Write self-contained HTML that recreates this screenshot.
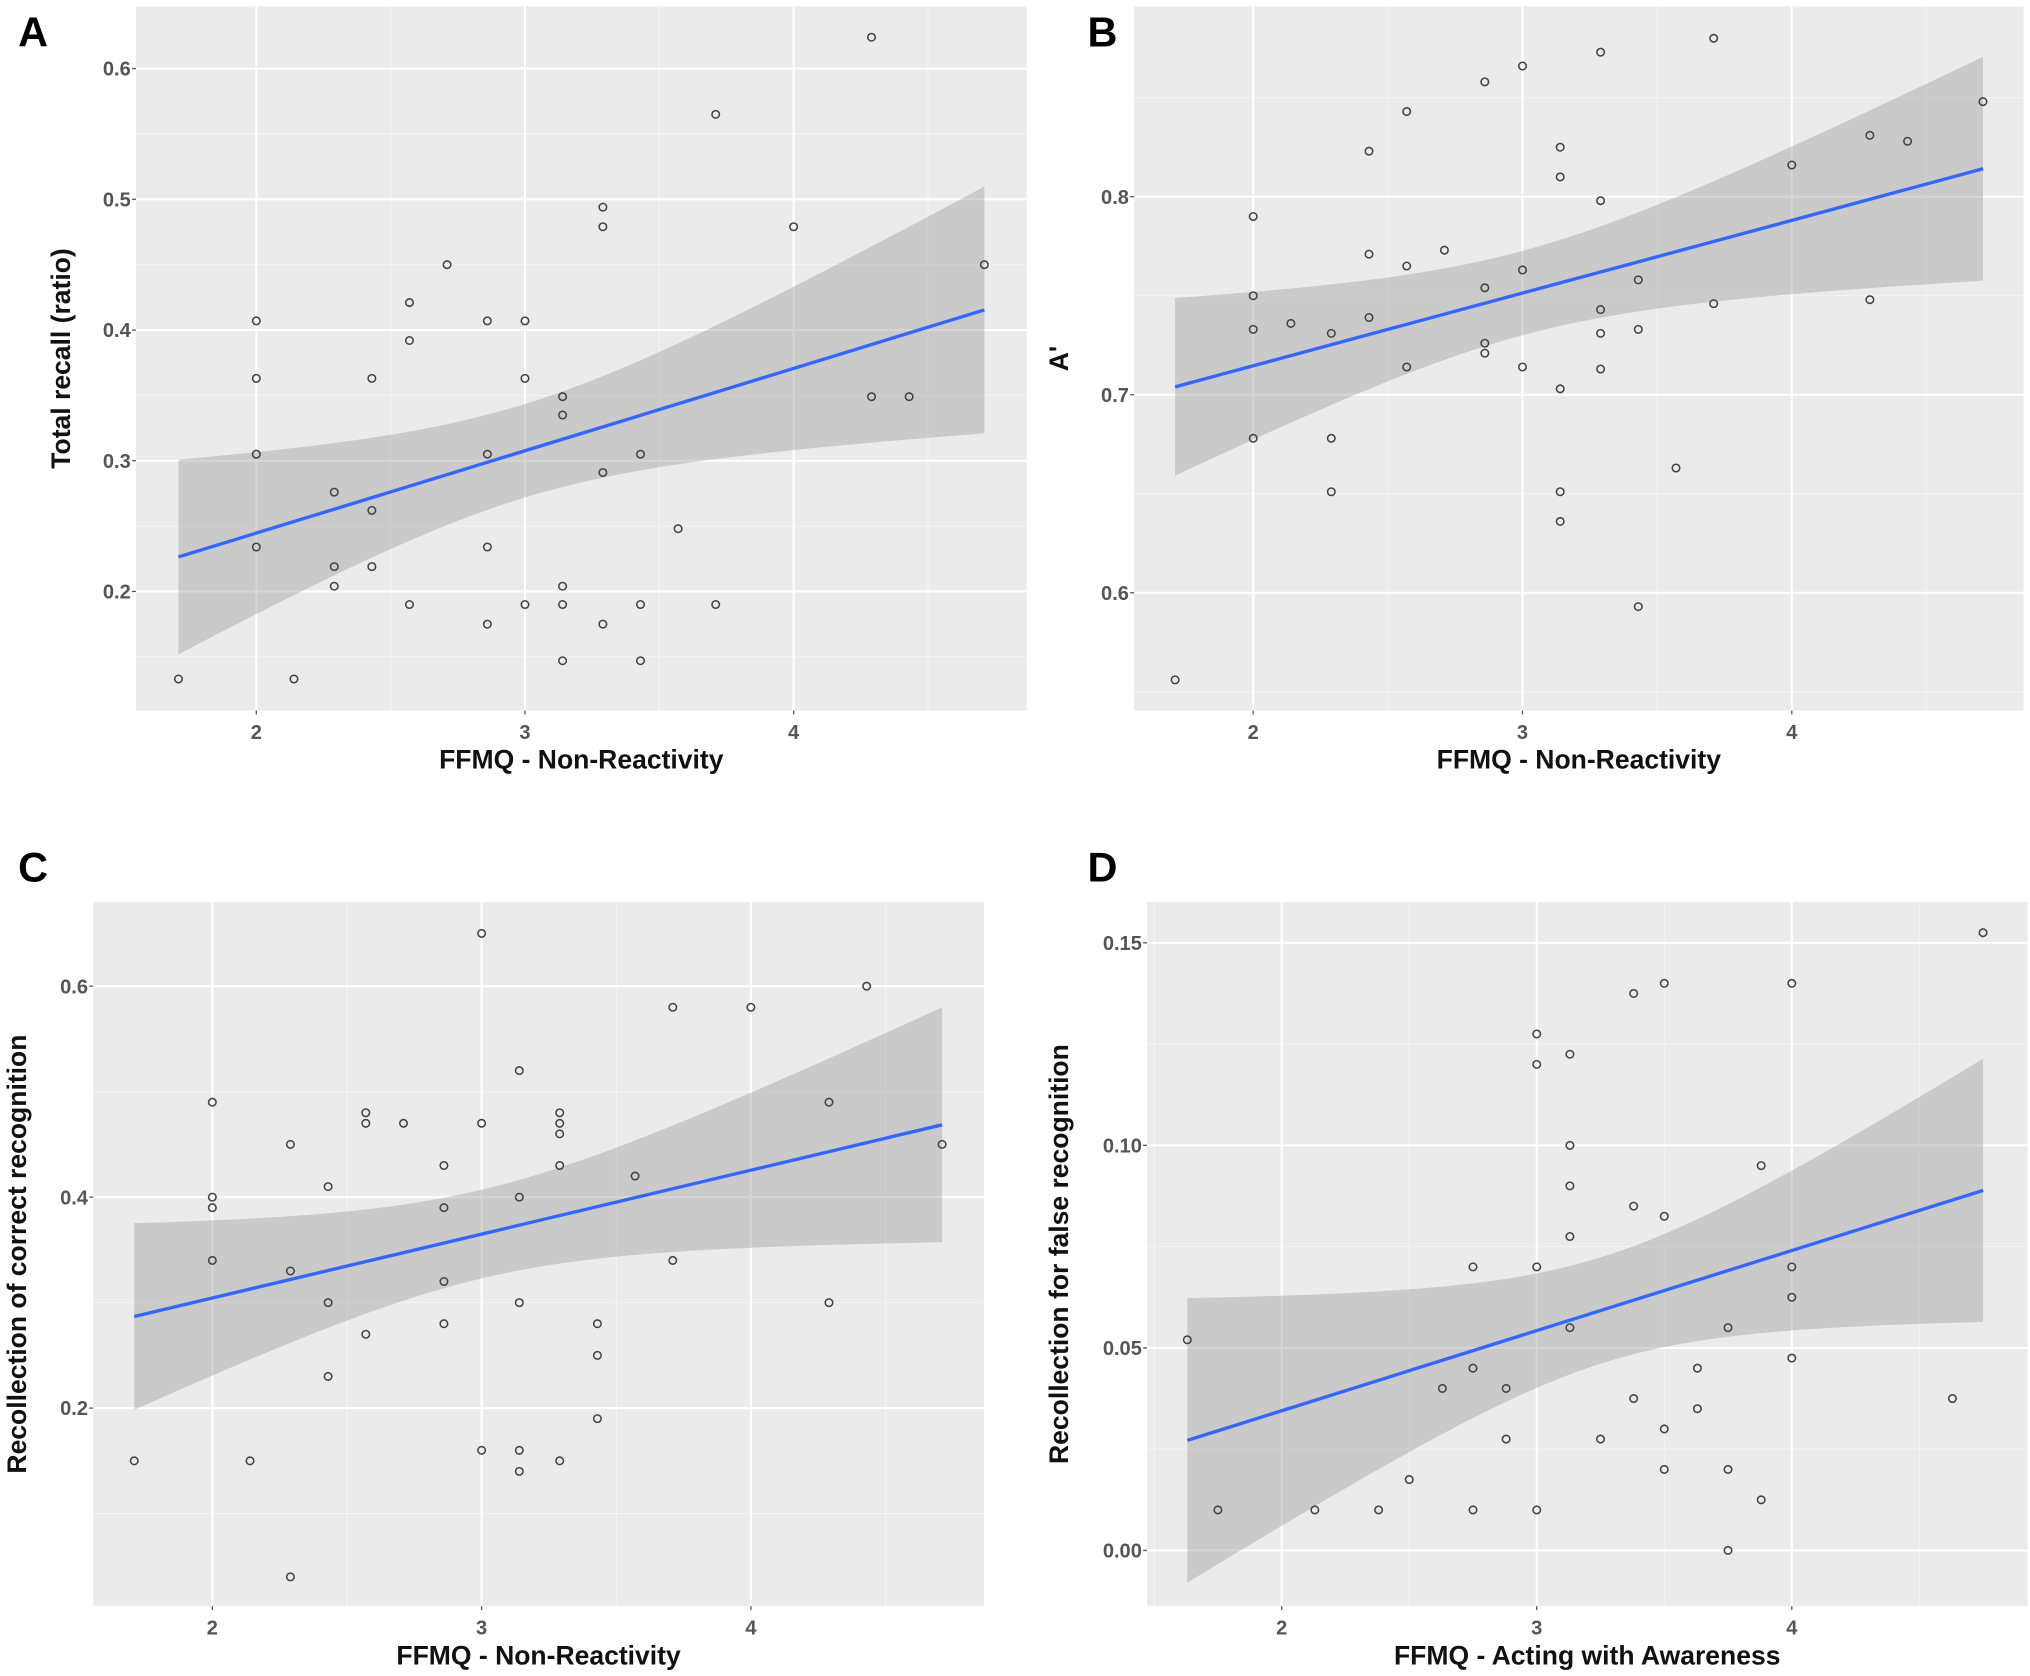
<!DOCTYPE html>
<html><head><meta charset="utf-8"><style>
html,body{margin:0;padding:0;background:#fff}
svg{display:block}
text{font-family:"Liberation Sans",Arial,sans-serif}
.tick{font-size:15.5px;font-weight:bold;fill:#555}
.title{font-size:20.5px;font-weight:bold;fill:#111}
.letter{font-size:32px;font-weight:bold;fill:#000}
</style></head><body>
<svg id="fig" width="2030" height="1676" viewBox="0 0 1568 1295" preserveAspectRatio="none" xmlns="http://www.w3.org/2000/svg"></svg>
<script>
// Panel A data
const aX=[1.71,2,2,2,2,2.14,2.29,2.29,2.29,2.43,2.43,2.43,2.57,2.57,2.57,2.71,2.86,2.86,2.86,2.86,3,3,3,3.14,3.14,3.14,3.14,3.14,3.29,3.29,3.29,3.29,3.43,3.43,3.43,3.57,3.71,3.71,4,4.29,4.29,4.43,4.71];
const aY=[0.133,0.407,0.363,0.305,0.234,0.133,0.276,0.219,0.204,0.363,0.262,0.219,0.421,0.392,0.19,0.45,0.407,0.305,0.234,0.175,0.407,0.363,0.19,0.349,0.335,0.204,0.19,0.147,0.494,0.479,0.291,0.175,0.305,0.19,0.147,0.248,0.565,0.19,0.479,0.624,0.349,0.349,0.45];
const aXTicks=[2,3,4];const aYTicks=[0.2,0.3,0.4,0.5,0.6];
// Panel B data
const bX=[1.71,2,2,2,2,2.14,2.29,2.29,2.29,2.43,2.43,2.43,2.57,2.57,2.57,2.71,2.86,2.86,2.86,2.86,3,3,3,3.14,3.14,3.14,3.14,3.14,3.29,3.29,3.29,3.29,3.29,3.43,3.43,3.43,3.57,3.71,3.71,4,4.29,4.29,4.43,4.71];
const bY=[0.556,0.79,0.75,0.733,0.678,0.736,0.731,0.678,0.651,0.823,0.771,0.739,0.843,0.765,0.714,0.773,0.858,0.754,0.726,0.721,0.866,0.763,0.714,0.825,0.81,0.703,0.651,0.636,0.873,0.798,0.743,0.731,0.713,0.758,0.733,0.593,0.663,0.88,0.746,0.816,0.831,0.748,0.828,0.848];
const bXTicks=[2,3,4];const bYTicks=[0.6,0.7,0.8];
// Panel C data
const cX=[1.71,2,2,2,2,2.14,2.29,2.29,2.29,2.43,2.43,2.43,2.57,2.57,2.57,2.71,2.86,2.86,2.86,2.86,3,3,3,3.14,3.14,3.14,3.14,3.14,3.29,3.29,3.29,3.29,3.29,3.43,3.43,3.43,3.57,3.71,3.71,4,4.29,4.29,4.43,4.71];
const cY=[0.15,0.49,0.40,0.39,0.34,0.15,0.45,0.33,0.04,0.41,0.30,0.23,0.48,0.47,0.27,0.47,0.43,0.39,0.32,0.28,0.65,0.47,0.16,0.52,0.40,0.30,0.16,0.14,0.48,0.47,0.46,0.43,0.15,0.28,0.25,0.19,0.42,0.58,0.34,0.58,0.49,0.30,0.60,0.45];
const cXTicks=[2,3,4];const cYTicks=[0.2,0.4,0.6];
// Panel D data
const dX=[1.63,1.75,2.13,2.38,2.5,2.63,2.75,2.75,2.75,2.88,2.88,3,3,3,3,3.13,3.13,3.13,3.13,3.13,3.25,3.38,3.38,3.38,3.5,3.5,3.5,3.5,3.63,3.63,3.75,3.75,3.75,3.88,3.88,4,4,4,4,4.63,4.75];
const dY=[0.052,0.01,0.01,0.01,0.0175,0.04,0.07,0.045,0.01,0.04,0.0275,0.1275,0.12,0.07,0.01,0.1225,0.10,0.09,0.0775,0.055,0.0275,0.1375,0.085,0.0375,0.14,0.0825,0.03,0.02,0.045,0.035,0.055,0.02,0.0,0.095,0.0125,0.14,0.07,0.0625,0.0475,0.0375,0.1525];
const dXTicks=[2,3,4];const dYTicks=[0,0.05,0.10,0.15];const dYLabels=["0.00","0.05","0.10","0.15"];

const NS="http://www.w3.org/2000/svg";
const svg=document.getElementById('fig');
function mk(tag,attrs,parent){const e=document.createElementNS(NS,tag);for(const k in attrs)e.setAttribute(k,attrs[k]);(parent||svg).appendChild(e);return e;}

function panel(p){
  const g=mk('g',{});
  
  
  const sx=v=>p.px0+(v-p.xv0)*p.kx;
  const sy=v=>p.py0-(v-p.yv0)*p.ky;
  const bg=mk('rect',{x:p.L,y:p.T,width:p.R-p.L,height:p.B-p.T,fill:'#ebebeb'},g);
  
  
  p.xMinor.forEach(v=>{const x=sx(v);if(x>p.L&&x<p.R){const l=mk('line',{x1:x,x2:x,y1:p.T,y2:p.B,stroke:'#f5f5f5','stroke-width':0.8},g);}});
  p.yMinor.forEach(v=>{const y=sy(v);if(y>p.T&&y<p.B){const l=mk('line',{x1:p.L,x2:p.R,y1:y,y2:y,stroke:'#f5f5f5','stroke-width':0.8},g);}});
  p.xTicks.forEach(v=>{const x=sx(v);const l=mk('line',{x1:x,x2:x,y1:p.T,y2:p.B,stroke:'#fff','stroke-width':1.6},g);
    mk('line',{x1:x,x2:x,y1:p.B,y2:p.B+3,stroke:'#555','stroke-width':1},g);
    const t=mk('text',{x:x,y:p.B+22,'text-anchor':'middle',class:'tick'},g);t.textContent=String(v);});
  p.yTicks.forEach((v,i)=>{const y=sy(v);const l=mk('line',{x1:p.L,x2:p.R,y1:y,y2:y,stroke:'#fff','stroke-width':1.6},g);
    mk('line',{x1:p.L-3,x2:p.L,y1:y,y2:y,stroke:'#555','stroke-width':1},g);
    const t=mk('text',{x:p.L-4,y:y+5.5,'text-anchor':'end',class:'tick'},g);t.textContent=p.yLabels?p.yLabels[i]:String(v);});
  const X=p.xs,Y=p.ys,n=X.length;
  const mx=X.reduce((a,b)=>a+b)/n,my=Y.reduce((a,b)=>a+b)/n;
  let sxx=0,sxy=0;for(let i=0;i<n;i++){sxx+=(X[i]-mx)**2;sxy+=(X[i]-mx)*(Y[i]-my);}
  const b=sxy/sxx,a=my-b*mx;let sse=0;for(let i=0;i<n;i++)sse+=(Y[i]-a-b*X[i])**2;
  const s=Math.sqrt(sse/(n-2)),t=2.02;
  const xmin=Math.min(...X),xmax=Math.max(...X);
  const up=[],lo=[];
  for(let k=0;k<=60;k++){const x=xmin+(xmax-xmin)*k/60;const yh=a+b*x;const se=s*Math.sqrt(1/n+(x-mx)**2/sxx);
    up.push(sx(x)+','+sy(yh+t*se));lo.unshift(sx(x)+','+sy(yh-t*se));}
  const band=mk('polygon',{points:up.concat(lo).join(' '),fill:'#999999','fill-opacity':0.4},g);
  
  const ln=mk('line',{x1:sx(xmin),y1:sy(a+b*xmin),x2:sx(xmax),y2:sy(a+b*xmax),stroke:'#3366FF','stroke-width':2.6},g);
  
  for(let i=0;i<n;i++){const c=mk('circle',{cx:sx(X[i]),cy:sy(Y[i]),r:2.9,fill:'none',stroke:'#444','stroke-width':1.2},g);
    }
  const xt=mk('text',{x:(p.L+p.R)/2,y:p.B+45,'text-anchor':'middle',class:'title'},g);xt.textContent=p.xTitle;
  
  const yt=mk('text',{x:0,y:0,'text-anchor':'middle',class:'title',transform:`translate(${p.yTitleX},${(p.T+p.B)/2}) rotate(-90)`},g);yt.textContent=p.yTitle;
  
  const le=mk('text',{x:p.lx,y:p.ly,class:'letter'},g);le.textContent=p.letter;
  
}
panel({id:'a',letter:'A',lx:14,ly:36,L:105,R:793,T:5,B:549,px0:198,xv0:2,kx:207.5,py0:457,yv0:0.2,ky:1010,
  xs:aX,ys:aY,xTicks:aXTicks,yTicks:aYTicks,xMinor:[1.5,2.5,3.5,4.5],yMinor:[0.15,0.25,0.35,0.45,0.55],
  xTitle:'FFMQ - Non-Reactivity',yTitle:'Total recall (ratio)',yTitleX:54});
panel({id:'b',letter:'B',lx:840,ly:36,L:876,R:1563,T:5,B:549,px0:968,xv0:2,kx:208,py0:305,yv0:0.7,ky:1530,
  xs:bX,ys:bY,xTicks:bXTicks,yTicks:bYTicks,xMinor:[1.5,2.5,3.5,4.5],yMinor:[0.55,0.65,0.75,0.85],
  xTitle:'FFMQ - Non-Reactivity',yTitle:'A\'',yTitleX:825});
panel({id:'c',letter:'C',lx:14,ly:681,L:72,R:760,T:697,B:1241,px0:164,xv0:2,kx:208,py0:925,yv0:0.4,ky:815,
  xs:cX,ys:cY,xTicks:cXTicks,yTicks:cYTicks,xMinor:[1.5,2.5,3.5,4.5],yMinor:[0.1,0.3,0.5],
  xTitle:'FFMQ - Non-Reactivity',yTitle:'Recollection of correct recognition',yTitleX:20});
panel({id:'d',letter:'D',lx:840,ly:681,L:886,R:1566,T:697,B:1241,px0:990,xv0:2,kx:197,py0:1198,yv0:0,ky:3130,
  xs:dX,ys:dY,xTicks:dXTicks,yTicks:dYTicks,yLabels:dYLabels,xMinor:[1.5,2.5,3.5,4.5],yMinor:[0.025,0.075,0.125],
  xTitle:'FFMQ - Acting with Awareness',yTitle:'Recollection for false recognition',yTitleX:825});
</script>
</body></html>
